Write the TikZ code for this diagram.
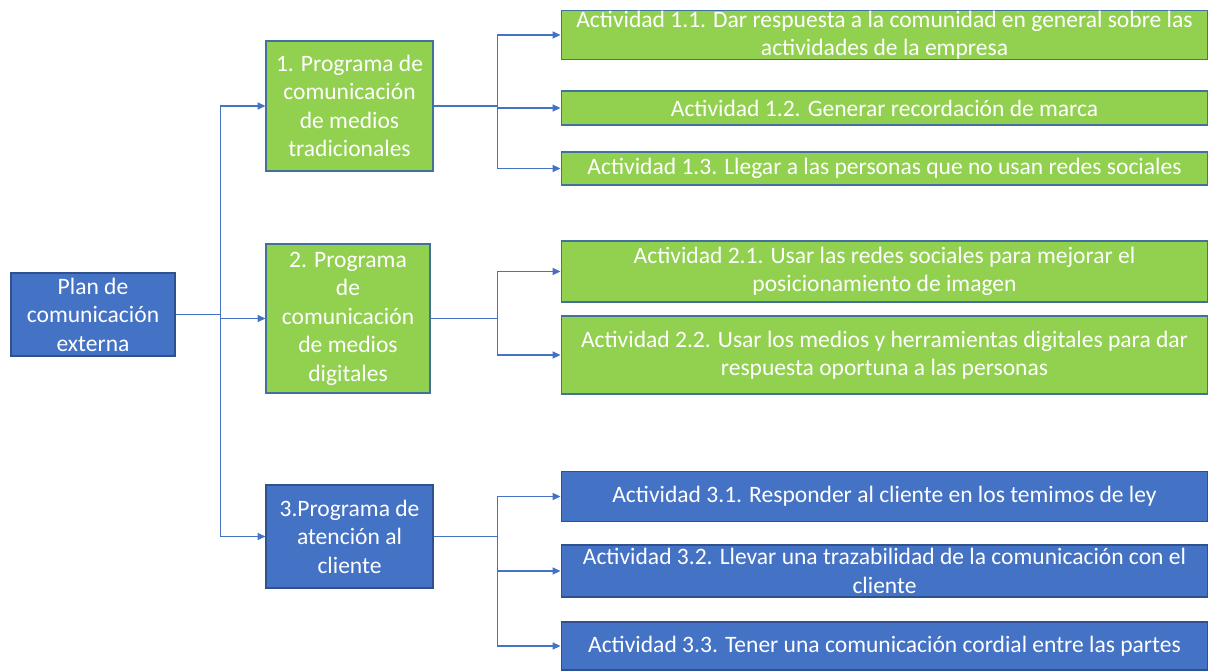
\documentclass[tikz,border=0pt]{standalone}
\usepackage{fontspec}
\setmainfont{Carlito}
\usetikzlibrary{arrows.meta}
\definecolor{boxblue}{HTML}{4472C4}
\definecolor{boxgreen}{HTML}{92D050}
\definecolor{rimblue}{HTML}{2F528F}
\definecolor{rimgreen}{HTML}{41719C}
\tikzset{
	box/.style={draw, line width=0.6pt, text=white, align=center, inner sep=0pt,
		font=\fontsize{13.4}{16.2}\selectfont},
	bluebox/.style={box, fill=boxblue, draw=rimblue},
	greenbox/.style={box, fill=boxgreen, draw=rimgreen},
	act/.style={minimum width=12.94cm},
	link/.style={draw=boxblue, line width=0.75pt, -{Triangle[length=4.5pt,width=4pt]}}
}
\begin{document}
\begin{tikzpicture}[x=0.02cm,y=-0.02cm]
	\useasboundingbox (0,0) rectangle (1209,671);
	% plan
	\node[bluebox, minimum width=3.28cm, minimum height=1.66cm] (plan) at (93,314.5)
		{Plan de\\comunicación\\externa};
	% programas
	\node[greenbox, minimum width=3.34cm, minimum height=2.6cm] (p1) at (349.5,106)
		{1. Programa de\\comunicación\\de medios\\tradicionales};
	\node[greenbox, minimum width=3.28cm, minimum height=2.98cm] (p2) at (348,318.5)
		{2. Programa\\de\\comunicación\\de medios\\digitales};
	\node[bluebox, minimum width=3.34cm, minimum height=2.06cm] (p3) at (349.5,536.5)
		{3.Programa de\\atención al\\cliente};
	% actividades
	\node[greenbox, act, minimum height=0.98cm] (a11) at (884.5,35)
		{Actividad 1.1. Dar respuesta a la comunidad en general sobre las\\actividades de la empresa};
	\node[greenbox, act, minimum height=0.68cm] (a12) at (884.5,108)
		{Actividad 1.2. Generar recordación de marca};
	\node[greenbox, act, minimum height=0.66cm] (a13) at (884.5,168.5)
		{Actividad 1.3. Llegar a las personas que no usan redes sociales};
	\node[greenbox, act, minimum height=1.22cm] (a21) at (884.5,271.5)
		{Actividad 2.1. Usar las redes sociales para mejorar el\\posicionamiento de imagen};
	\node[greenbox, act, minimum height=1.56cm] (a22) at (884.5,355)
		{Actividad 2.2. Usar los medios y herramientas digitales para dar\\respuesta oportuna a las personas};
	\node[bluebox, act, minimum height=1.0cm] (a31) at (884.5,496.5)
		{Actividad 3.1. Responder al cliente en los temimos de ley};
	\node[bluebox, act, minimum height=1.04cm] (a32) at (884.5,571)
		{Actividad 3.2. Llevar una trazabilidad de la comunicación con el\\cliente};
	\node[bluebox, act, minimum height=0.96cm] (a33) at (884.5,646)
		{Actividad 3.3. Tener una comunicación cordial entre las partes};
	% conectores
	\foreach \p in {p1,p2,p3} \draw[link] (plan.east) -- +(45,0) |- (\p);
	\foreach \a in {a11,a12,a13} \draw[link] (p1.east) -- +(64,0) |- (\a);
	\foreach \a in {a21,a22} \draw[link] (p2.east) -- +(67,0) |- (\a);
	\foreach \a in {a31,a32,a33} \draw[link] (p3.east) -- +(64,0) |- (\a);
\end{tikzpicture}
\end{document}
